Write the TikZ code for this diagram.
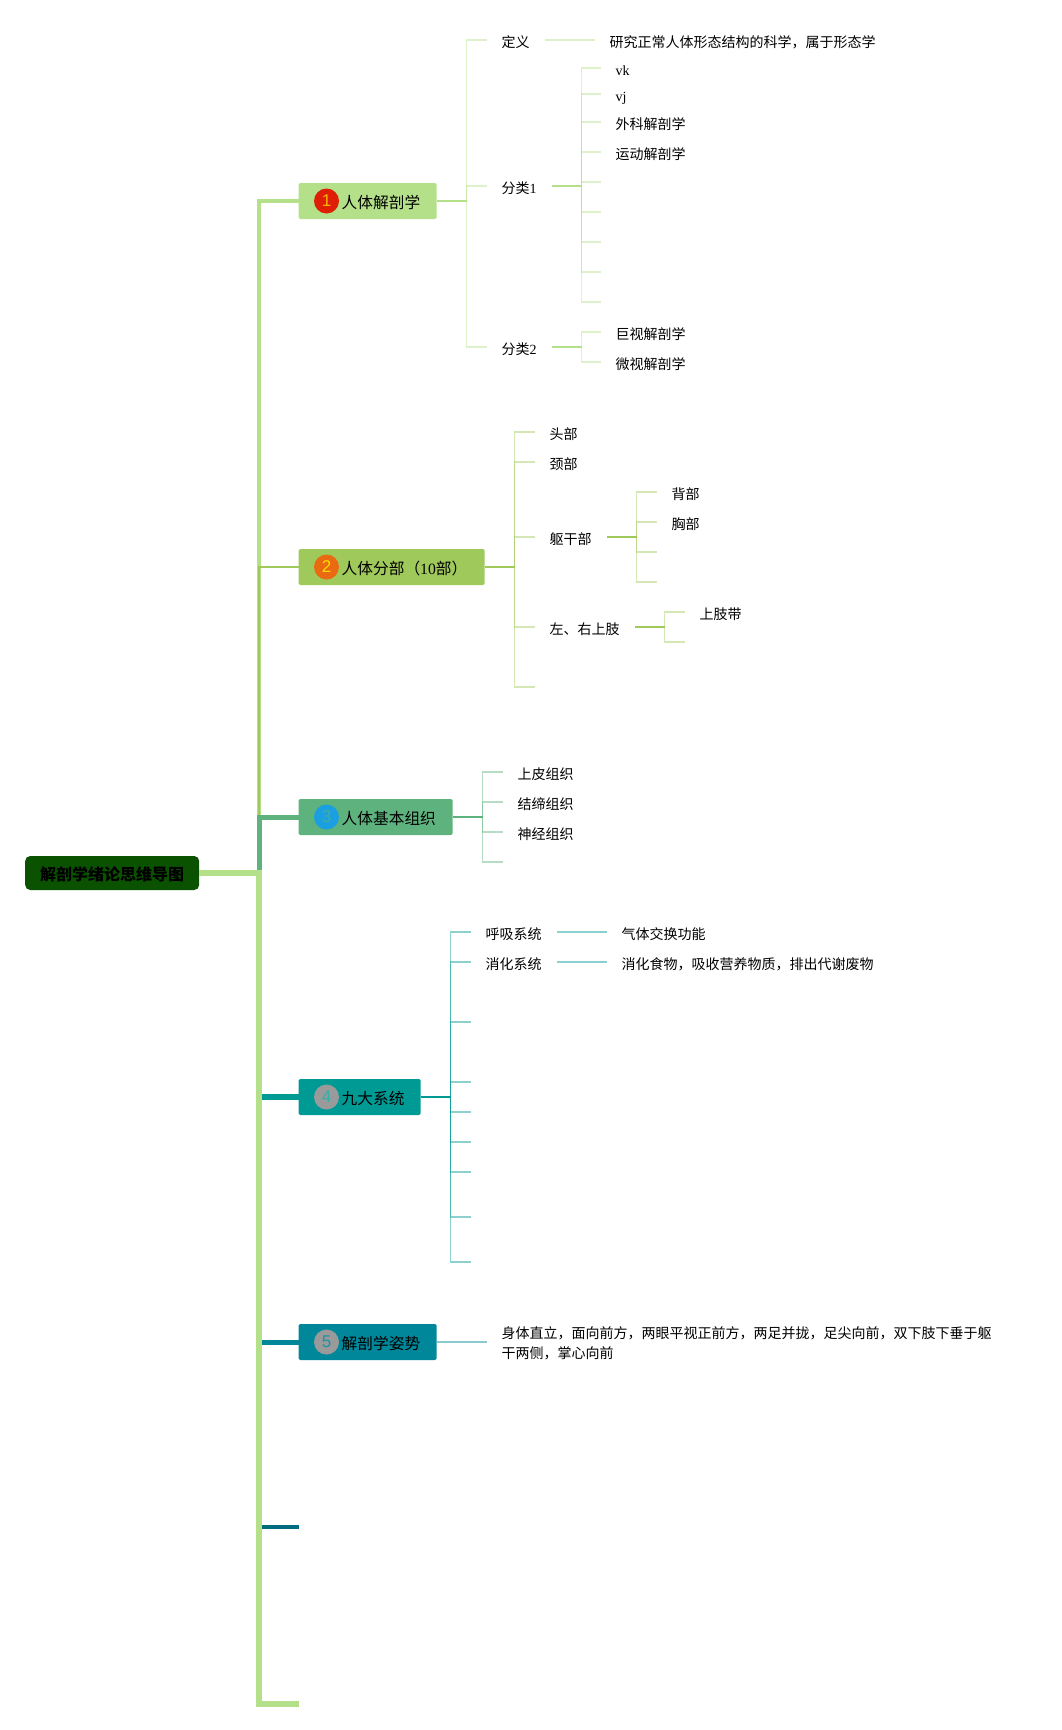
\documentclass[tikz,border=0pt]{standalone}
\usepackage{fontspec}
\setmainfont{Liberation Serif}
\newfontfamily\cjk{Noto Sans CJK SC}
\newfontfamily\digitfont{Liberation Sans}
\newcommand{\zh}[1]{{\cjk #1}}
\definecolor{rootgreen}{HTML}{0A5200}
\definecolor{leafgreen}{HTML}{B5E08A}
\definecolor{grassgreen}{HTML}{A0C95C}
\definecolor{seagreen}{HTML}{5DB27E}
\definecolor{tealgreen}{HTML}{009A94}
\definecolor{deepteal}{HTML}{00889A}
\definecolor{darkteal}{HTML}{006C80}
\definecolor{badgered}{HTML}{DE1F05}
\definecolor{badgeorange}{HTML}{E96A10}
\definecolor{badgeblue}{HTML}{1A9FE0}
\definecolor{badgegray}{HTML}{9A9A9A}
\tikzset{
  rootbox/.style={anchor=west,fill=rootgreen,rounded corners=5pt,minimum width=174pt,minimum height=34pt,inner sep=0pt,text height=16pt,text depth=2pt,font=\cjk\bfseries\fontsize{16}{20}\selectfont},
  topic/.style={anchor=west,fill=#1,rounded corners=1.5pt,minimum height=36pt,inner sep=0pt},
  badge/.style={circle,fill=#1,minimum size=25pt,inner sep=0pt,font=\digitfont\fontsize{17}{20}\selectfont},
  title/.style={anchor=west,inner sep=0pt,text height=17.5pt,text depth=2.5pt,font=\fontsize{15.7}{20}\selectfont},
  leaf/.style={anchor=west,inner xsep=15pt,inner ysep=0pt,text height=16.3pt,text depth=2pt,font=\fontsize{14}{20}\selectfont},
  para/.style={anchor=west,inner xsep=15pt,inner ysep=0pt,align=left,font=\fontsize{14}{20}\selectfont},
  twig/.style={draw=#1,draw opacity=.45,line width=1.8pt},
  stalk/.style={draw=#1,line width=1.8pt},
}
\begin{document}
\begin{tikzpicture}[x=1pt,y=-1pt]
  \useasboundingbox (0,0) rectangle (1061,1730);

  \node[rootbox] (root) at (25,873) {解剖学绪论思维导图};
  \coordinate (spine) at (259,873);
  \coordinate (stub6) at (299,1527);\coordinate (stub7) at (299,1704);
  \coordinate (spine4) at (259,1097);\coordinate (spine5) at (259,1342);\coordinate (spine6) at (259,1527);\coordinate (spine7) at (259,1704);

  \node[topic=leafgreen,minimum width=138pt] (anatomy) at (298.5,201) {};
  \node[badge=badgered,text=orange!60!yellow] (mark1) at (326.5,201) {1};
  \node[title] (title1) at (341.5,201) {\zh{人体解剖学}};
  \node[topic=grassgreen,minimum width=186pt] (regions) at (298.5,567) {};
  \node[badge=badgeorange,text=yellow!80!orange] (mark2) at (326.5,567) {2};
  \node[title] (title2) at (341.5,567) {\zh{人体分部（}10\zh{部）}};
  \node[topic=seagreen,minimum width=154pt] (tissues) at (298.5,817) {};
  \node[badge=badgeblue,text=seagreen!70!badgeblue] (mark3) at (326.5,817) {3};
  \node[title] (title3) at (341.5,817) {\zh{人体基本组织}};
  \node[topic=tealgreen,minimum width=122pt] (systems) at (298.5,1097) {};
  \node[badge=badgegray,text=tealgreen!80!white] (mark4) at (326.5,1097) {4};
  \node[title] (title4) at (341.5,1097) {\zh{九大系统}};
  \node[topic=deepteal,minimum width=138pt] (posture) at (298.5,1342) {};
  \node[badge=badgegray,text=deepteal!90!white] (mark5) at (326.5,1342) {5};
  \node[title] (title5) at (341.5,1342) {\zh{解剖学姿势}};

  \draw[line width=4pt,leafgreen] (spine) |- (anatomy.west);
  \draw[line width=2.5pt,grassgreen] (spine) |- (regions.west);
  \draw[line width=5pt,seagreen] (spine) |- (tissues.west);
  \draw[line width=6pt,tealgreen] (spine4) -- (systems.west);
  \draw[line width=5pt,deepteal] (spine5) -- (posture.west);
  \draw[line width=4pt,darkteal] (spine6) -- (stub6);
  \draw[line width=6pt,leafgreen] (root.east) -- (spine) -- (spine7) -- (stub7);

  \coordinate (hub1) at (466.5,201);
  \node[leaf] (define) at (486.5,40) {\zh{定义}};\node[leaf] (definetext) at (594.5,40) {\zh{研究正常人体形态结构的科学，属于形态学}};
  \node[leaf] (sort1) at (486.5,186) {\zh{分类}1};\node[leaf] (sort2) at (486.5,347) {\zh{分类}2};
  \draw[stalk=leafgreen] (anatomy.east) -- (hub1);
  \draw[twig=leafgreen] (hub1) |- (define.west);\draw[twig=leafgreen] (hub1) |- (sort1.west);\draw[twig=leafgreen] (hub1) |- (sort2.west);
  \draw[twig=leafgreen] (define.east) -- (definetext.west);

  \coordinate (hub11) at (581.5,186);
  \node[leaf] (vk) at (600.5,68) {vk};\node[leaf] (vj) at (600.5,94) {vj};\node[leaf] (surgical) at (600.5,122) {\zh{外科解剖学}};\node[leaf] (sports) at (600.5,152) {\zh{运动解剖学}};
  \coordinate (blank15) at (600.5,182);\coordinate (blank16) at (600.5,212);\coordinate (blank17) at (600.5,242);\coordinate (blank18) at (600.5,272);\coordinate (blank19) at (600.5,302);
  \draw[stalk=leafgreen] (sort1.east) -- (hub11);
  \draw[twig=leafgreen] (hub11) |- (vk.west);\draw[twig=leafgreen] (hub11) |- (vj.west);\draw[twig=leafgreen] (hub11) |- (surgical.west);\draw[twig=leafgreen] (hub11) |- (sports.west);
  \draw[twig=leafgreen] (hub11) |- (blank15);\draw[twig=leafgreen] (hub11) |- (blank16);\draw[twig=leafgreen] (hub11) |- (blank17);\draw[twig=leafgreen] (hub11) |- (blank18);\draw[twig=leafgreen] (hub11) |- (blank19);

  \coordinate (hub12) at (581.5,347);
  \node[leaf] (gross) at (600.5,332) {\zh{巨视解剖学}};\node[leaf] (micro) at (600.5,362) {\zh{微视解剖学}};
  \draw[stalk=leafgreen] (sort2.east) -- (hub12);
  \draw[twig=leafgreen] (hub12) |- (gross.west);\draw[twig=leafgreen] (hub12) |- (micro.west);

  \coordinate (hub2) at (514.5,567);
  \node[leaf] (head) at (534.5,432) {\zh{头部}};\node[leaf] (neck) at (534.5,462) {\zh{颈部}};\node[leaf] (trunk) at (534.5,537) {\zh{躯干部}};\node[leaf] (arms) at (534.5,627) {\zh{左、右上肢}};
  \coordinate (blank25) at (534.5,687);
  \draw[stalk=grassgreen] (regions.east) -- (hub2);
  \draw[twig=grassgreen] (hub2) |- (head.west);\draw[twig=grassgreen] (hub2) |- (neck.west);\draw[twig=grassgreen] (hub2) |- (trunk.west);\draw[twig=grassgreen] (hub2) |- (arms.west);\draw[twig=grassgreen] (hub2) |- (blank25);

  \coordinate (hub23) at (636.5,537);
  \node[leaf] (back) at (656.5,492) {\zh{背部}};\node[leaf] (chest) at (656.5,522) {\zh{胸部}};
  \coordinate (blank233) at (656.5,552);\coordinate (blank234) at (656.5,582);
  \draw[stalk=grassgreen] (trunk.east) -- (hub23);
  \draw[twig=grassgreen] (hub23) |- (back.west);\draw[twig=grassgreen] (hub23) |- (chest.west);\draw[twig=grassgreen] (hub23) |- (blank233);\draw[twig=grassgreen] (hub23) |- (blank234);

  \coordinate (hub24) at (664.5,627);
  \node[leaf] (girdle) at (684.5,612) {\zh{上肢带}};
  \coordinate (blank242) at (684.5,642);
  \draw[stalk=grassgreen] (arms.east) -- (hub24);
  \draw[twig=grassgreen] (hub24) |- (girdle.west);\draw[twig=grassgreen] (hub24) |- (blank242);

  \coordinate (hub3) at (482.5,817);
  \node[leaf] (epithelial) at (502.5,772) {\zh{上皮组织}};\node[leaf] (connective) at (502.5,802) {\zh{结缔组织}};\node[leaf] (nervous) at (502.5,832) {\zh{神经组织}};
  \coordinate (blank34) at (502.5,862);
  \draw[stalk=seagreen] (tissues.east) -- (hub3);
  \draw[twig=seagreen] (hub3) |- (epithelial.west);\draw[twig=seagreen] (hub3) |- (connective.west);\draw[twig=seagreen] (hub3) |- (nervous.west);\draw[twig=seagreen] (hub3) |- (blank34);

  \coordinate (hub4) at (450.5,1097);
  \node[leaf] (breath) at (470.5,932) {\zh{呼吸系统}};\node[leaf] (breathtext) at (606.5,932) {\zh{气体交换功能}};
  \node[leaf] (digest) at (470.5,962) {\zh{消化系统}};\node[leaf] (digesttext) at (606.5,962) {\zh{消化食物，吸收营养物质，排出代谢废物}};
  \coordinate (blank43) at (470.5,1022);\coordinate (blank44) at (470.5,1082);\coordinate (blank45) at (470.5,1112);\coordinate (blank46) at (470.5,1142);\coordinate (blank47) at (470.5,1172);\coordinate (blank48) at (470.5,1217);\coordinate (blank49) at (470.5,1262);
  \draw[stalk=tealgreen] (systems.east) -- (hub4);
  \draw[twig=tealgreen] (hub4) |- (breath.west);\draw[twig=tealgreen] (hub4) |- (digest.west);
  \draw[twig=tealgreen] (breath.east) -- (breathtext.west);\draw[twig=tealgreen] (digest.east) -- (digesttext.west);
  \draw[twig=tealgreen] (hub4) |- (blank43);\draw[twig=tealgreen] (hub4) |- (blank44);\draw[twig=tealgreen] (hub4) |- (blank45);\draw[twig=tealgreen] (hub4) |- (blank46);\draw[twig=tealgreen] (hub4) |- (blank47);\draw[twig=tealgreen] (hub4) |- (blank48);\draw[twig=tealgreen] (hub4) |- (blank49);

  \node[para] (stance) at (486.5,1343.5) {\zh{身体直立，面向前方，两眼平视正前方，两足并拢，足尖向前，双下肢下垂于躯}\\\zh{干两侧，掌心向前}};
  \draw[twig=deepteal] (posture.east) -- (posture.east -| stance.west);
\end{tikzpicture}
\end{document}
